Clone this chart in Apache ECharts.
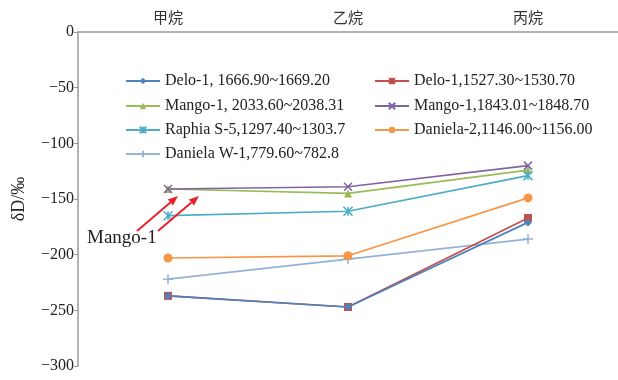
<!DOCTYPE html>
<html>
<head>
<meta charset="utf-8">
<script src="https://cdn.jsdelivr.net/npm/echarts@6/dist/echarts.min.js"></script>
<style>
  html, body { margin: 0; padding: 0; background: #fff; }
  #chart { width: 618px; height: 380px; }
</style>
</head>
<body>
<div id="chart"></div>
<script>
// Gas components along the category axis
const categories = ['甲烷', '乙烷', '丙烷'];

// Sample names (well, depth interval in m)
const seriesNames = [
  'Delo-1, 1666.90~1669.20',
  'Delo-1,1527.30~1530.70',
  'Mango-1, 2033.60~2038.31',
  'Mango-1,1843.01~1848.70',
  'Raphia S-5,1297.40~1303.7',
  'Daniela-2,1146.00~1156.00',
  'Daniela W-1,779.60~782.8'
];

// δD values (‰) for methane, ethane, propane
const delo1A     = [-237, -247, -171];
const delo1B     = [-237, -247, -167];
const mango1A    = [-141, -145, -124];
const mango1B    = [-141, -139, -120];
const raphiaS5   = [-165, -161, -129];
const daniela2   = [-203, -201, -149];
const danielaW1  = [-222, -204, -186];

const yTicks = { min: -300, max: 0, step: 50 };

const serif = '"Liberation Serif", "Times New Roman", serif';
const cjk = '"Noto Sans CJK SC", sans-serif';

const crossPath = 'path://M0,0L10,10M10,0L0,10';
const starPath = 'path://M0,0L10,10M10,0L0,10M5,0L5,10';
const plusPath = 'path://M5,0L5,10M0,5L10,5';

const styles = [
  { color: '#4F81BD', symbol: 'diamond', size: 8, z: 4 },
  { color: '#C0504D', symbol: 'rect', size: 8, z: 3 },
  { color: '#9BBB59', symbol: 'triangle', size: 8, z: 3 },
  { color: '#8064A2', symbol: crossPath, size: 8, z: 3, stroke: true },
  { color: '#4BACC6', symbol: starPath, size: 9, z: 3, stroke: true },
  { color: '#F79646', symbol: 'circle', size: 9, z: 3 },
  { color: '#95B3D7', symbol: plusPath, size: 10, z: 2, stroke: true }
];
const values = [delo1A, delo1B, mango1A, mango1B, raphiaS5, daniela2, danielaW1];

const series = seriesNames.map((name, i) => {
  const s = styles[i];
  return {
    name: name,
    type: 'line',
    data: values[i],
    symbol: s.symbol,
    symbolSize: s.size,
    z: s.z,
    lineStyle: { color: s.color, width: 1.7 },
    itemStyle: s.stroke
      ? { color: s.color, borderColor: s.color, borderWidth: 1.5 }
      : { color: s.color },
    emphasis: { disabled: true },
    animation: false
  };
});

// Two-column legend: left column and right column positions
const legendRows = [73, 98, 122, 146];
const legendSlots = [
  { left: 125, row: 0 }, { left: 374, row: 0 },
  { left: 125, row: 1 }, { left: 374, row: 1 },
  { left: 125, row: 2 }, { left: 374, row: 2 },
  { left: 125, row: 3 }
];
const legends = seriesNames.map((name, i) => ({
  data: [name],
  left: legendSlots[i].left,
  top: legendRows[legendSlots[i].row],
  itemWidth: 34,
  itemHeight: 8,
  padding: 0,
  selectedMode: false,
  textStyle: { fontFamily: serif, fontSize: 16, color: '#222' }
}));

// Annotation arrow pointing at the Mango-1 points
function arrow(x1, y1, x2, y2) {
  const ang = Math.atan2(y2 - y1, x2 - x1);
  const len = 10, half = 4;
  const bx = x2 - len * Math.cos(ang), by = y2 - len * Math.sin(ang);
  const px = -Math.sin(ang) * half, py = Math.cos(ang) * half;
  return [
    { type: 'line', shape: { x1: x1, y1: y1, x2: bx, y2: by },
      style: { stroke: '#E8222A', lineWidth: 2 }, z: 10 },
    { type: 'polygon', shape: { points: [[x2, y2], [bx + px, by + py], [bx - px, by - py]] },
      style: { fill: '#E8222A' }, z: 10 }
  ];
}

const chart = echarts.init(document.getElementById('chart'), null, { renderer: 'canvas' });
chart.setOption({
  backgroundColor: '#fff',
  animation: false,
  grid: { left: 78, top: 32, right: 0, bottom: 14, containLabel: false },
  legend: legends,
  xAxis: {
    type: 'category',
    position: 'top',
    data: categories,
    boundaryGap: true,
    axisLine: { lineStyle: { color: '#9a9a9a', width: 1.5 } },
    axisTick: { inside: true, length: 4, lineStyle: { color: '#9a9a9a' } },
    axisLabel: { fontFamily: cjk, fontSize: 15, color: '#333', margin: 7 },
    splitLine: { show: false }
  },
  yAxis: {
    type: 'value',
    min: yTicks.min,
    max: yTicks.max,
    interval: yTicks.step,
    name: 'δD/‰',
    nameLocation: 'middle',
    nameGap: 50,
    nameTextStyle: { fontFamily: serif, fontSize: 18, color: '#222' },
    axisLine: { show: true, lineStyle: { color: '#9a9a9a', width: 1.5 } },
    axisTick: { show: true, length: 4, lineStyle: { color: '#9a9a9a' } },
    axisLabel: {
      fontFamily: serif, fontSize: 16, color: '#222', margin: 4,
      formatter: v => (v < 0 ? '\u2212' + Math.abs(v) : String(v))
    },
    splitLine: { show: false }
  },
  series: series,
  graphic: [
    { type: 'text', left: 87, top: 229, z: 10,
      style: { text: 'Mango-1', font: '19px ' + serif, fill: '#222' } },
    ...arrow(137, 231, 178, 196),
    ...arrow(158, 231, 199, 196)
  ]
});
</script>
</body>
</html>
